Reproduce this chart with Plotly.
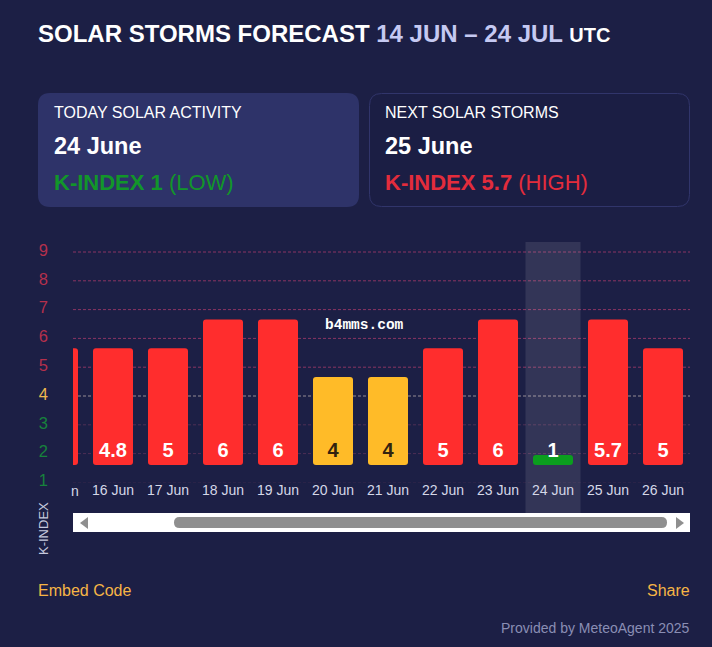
import plotly.graph_objects as go

W, H = 712, 647
BG = "#1c1f45"
FONT = "Liberation Sans"

dates = ["15 Jun", "16 Jun", "17 Jun", "18 Jun", "19 Jun", "20 Jun",
         "21 Jun", "22 Jun", "23 Jun", "24 Jun", "25 Jun", "26 Jun"]
bar_tops = [5.66, 5.66, 5.66, 6.66, 6.66, 4.66, 4.66, 5.66, 6.66, 1.95, 6.66, 5.66]
bar_base = 1.6
value_labels = ["", "4.8", "5", "6", "6", "4", "4", "5", "6", "1", "5.7", "5"]
levels = ["high", "high", "high", "high", "high", "mid", "mid", "high", "high", "low", "high", "high"]
today = "24 Jun"
k_ticks = [1, 2, 3, 4, 5, 6, 7, 8, 9]

BAR_COLORS = {"high": "#ff2d2d", "mid": "#ffbb28", "low": "#0b9e1e"}
TEXT_COLORS = {"high": "#ffffff", "mid": "#33220f", "low": "#ffffff"}


def tick_color(k):
    return "#17823c" if k <= 3 else ("#efb84e" if k == 4 else "#b5304c")


def grid_color(k):
    if k == 1:
        return "rgba(150,70,110,0.12)"
    if k <= 3:
        return "rgba(150,70,110,0.4)"
    if k == 4:
        return "rgba(215,200,190,0.65)"
    return "rgba(175,60,110,0.75)"


def px(x):
    return x / W


def py(y):
    return 1 - y / H


def rounded(x0, y0, x1, y1, r):
    a, b, c, d = px(x0), py(y0), px(x1), py(y1)
    rx, ry = r / W, r / H
    return (f"M{a + rx},{b} L{c - rx},{b} Q{c},{b} {c},{b - ry} L{c},{d + ry} Q{c},{d} {c - rx},{d} "
            f"L{a + rx},{d} Q{a},{d} {a},{d + ry} L{a},{b - ry} Q{a},{b} {a + rx},{b} Z")


def tri(points):
    return "M" + " L".join(f"{px(x)},{py(y)}" for x, y in points) + " Z"


def panel(path, fill, line="rgba(0,0,0,0)", width=0, layer="below"):
    return dict(type="path", xref="paper", yref="paper", path=path, fillcolor=fill,
                line=dict(color=line, width=width), layer=layer)


def label(x, y, text, size, color="#ffffff", anchor="left", **kw):
    nudge = {"left": -2, "right": 2, "center": 0}[anchor]
    return dict(xref="paper", yref="paper", x=px(x + nudge), y=py(y), text=text, showarrow=False,
                xanchor=anchor, yanchor="middle", font=dict(family=FONT, size=size, color=color), **kw)


# pixel geometry of the plot frame
PLOT_L, PLOT_R, PLOT_T, PLOT_B = 73, 690, 242, 513
Y_TOP = 9 + (252 - PLOT_T) / 28.8
Y_BOTTOM = 9 - (PLOT_B - 252) / 28.8

shapes = [
    panel(rounded(38, 93, 359, 207, 12), "#2e3369"),
    panel(rounded(369.5, 93.5, 689.5, 206.5, 12), "#1b1e44", "#31356b", 1),
]

for k in k_ticks:
    shapes.append(dict(type="line", xref="paper", yref="y", x0=px(PLOT_L), x1=px(PLOT_R), y0=k, y1=k,
                       line=dict(color=grid_color(k), width=1, dash="3px,2px"), layer="below"))

t = dates.index(today)
shapes.append(dict(type="rect", xref="x", yref="paper", x0=t - 0.5, x1=t + 0.5, y0=py(PLOT_B), y1=py(PLOT_T),
                   fillcolor="rgba(255,255,255,0.10)", line=dict(width=0), layer="below"))

# scrollbar
shapes += [
    panel(rounded(73, 513, 690, 532, 0.01), "#ffffff", layer="above"),
    panel(rounded(174, 517, 667, 528, 5.5), "#8f8f8f", layer="above"),
    panel(tri([(88, 517), (88, 529), (80, 523)]), "#8f8f8f", layer="above"),
    panel(tri([(676, 517), (676, 529), (684, 523)]), "#8f8f8f", layer="above"),
]

annotations = [
    label(38, 33,
          "<b>SOLAR STORMS FORECAST <span style='color:#c5c9f2'>14 JUN – 24 JUL</span> "
          "<span style='font-size:20px'>UTC</span></b>", 24),
    label(54, 112, "TODAY SOLAR ACTIVITY", 16),
    label(54, 146, "<b>24 June</b>", 23.5),
    label(54, 182, "<b>K-INDEX 1</b> (LOW)", 22, "#12962a"),
    label(385, 112, "NEXT SOLAR STORMS", 16),
    label(385, 146, "<b>25 June</b>", 23.5),
    label(385, 182, "<b>K-INDEX 5.7</b> (HIGH)", 22, "#e32c3c"),
    label(38, 590, "Embed Code", 16, "#f6b545"),
    label(690, 590, "Share", 16, "#f6b545", "right"),
    label(690, 628, "Provided by MeteoAgent 2025", 14, "#8a8eb4", "right"),
    label(78.5, 490.5, dates[0][-1], 14, "#d5d8e8", "right"),
    label(43, 529, "K-INDEX", 13, "#c6c9de", "center", textangle=-90),
    dict(xref="paper", yref="paper", x=px(364.5), y=py(325), text="<b>b4mms.com</b>", showarrow=False,
         font=dict(family="Liberation Mono", size=14.5, color="#ffffff")),
]

fig = go.Figure()
fig.add_bar(x=dates, y=[v - bar_base for v in bar_tops], base=bar_base, width=40 / 55,
            marker=dict(color=[BAR_COLORS[l] for l in levels], line_width=0, cornerradius=3),
            hoverinfo="skip", showlegend=False)
fig.add_scatter(x=dates, y=[2.06] * len(dates), mode="text", text=[f"<b>{v}</b>" for v in value_labels],
                textposition="middle center",
                textfont=dict(family=FONT, size=20, color=[TEXT_COLORS[l] for l in levels]),
                hoverinfo="skip", showlegend=False)

fig.update_layout(
    width=W, height=H, autosize=False,
    margin=dict(l=0, r=0, t=0, b=0),
    paper_bgcolor=BG, plot_bgcolor="rgba(0,0,0,0)",
    font=dict(family=FONT),
    shapes=shapes, annotations=annotations, showlegend=False,
    xaxis=dict(
        domain=[px(PLOT_L), px(PLOT_R)], type="category", categoryorder="array", categoryarray=dates,
        range=[1 - 40 / 55, 11 + 27 / 55], anchor="free", position=py(480),
        showgrid=False, zeroline=False, showline=False, ticks="", fixedrange=True,
        tickmode="array", tickvals=dates[1:], ticktext=dates[1:], tickangle=0,
        tickfont=dict(size=14, color="#d5d8e8", family=FONT),
    ),
    yaxis=dict(
        domain=[py(PLOT_B), py(PLOT_T)], range=[Y_BOTTOM, Y_TOP], anchor="x",
        showgrid=False, zeroline=False, showline=False, ticks="", fixedrange=True,
        tickmode="array", tickvals=k_ticks,
        ticktext=[f"<span style='color:{tick_color(k)}'>{k}</span>" for k in k_ticks],
        tickfont=dict(size=16.5, family=FONT), ticklabelstandoff=24, ticklabelshift=-2,
    ),
)

fig.write_html("out.html", config={"displayModeBar": False},
               post_script="document.body.style.margin='0';document.body.style.background='" + BG + "';")
